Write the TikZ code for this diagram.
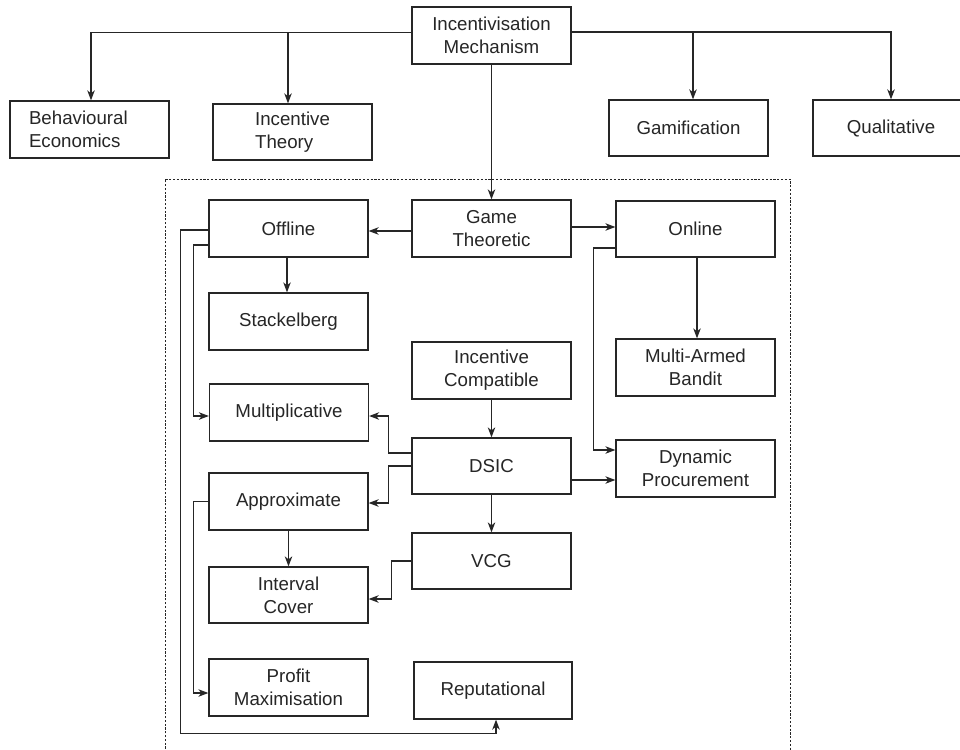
\documentclass[tikz,border=0pt]{standalone}
\usepackage{fontspec}
\setmainfont{Liberation Sans}
\usetikzlibrary{arrows.meta}
\definecolor{ink}{HTML}{262626}
\begin{document}
\begin{tikzpicture}[x=1pt,y=-1pt,
  box/.style={draw=ink,line width=1.3pt,minimum width=159pt,minimum height=57pt,inner sep=2pt,align=center,text=ink,font=\fontsize{18.7}{23}\selectfont},
  arr/.style={draw=ink,line width=1.2pt,-{Stealth[length=10pt,width=7.5pt,inset=3pt]}},
  ln/.style={draw=ink,line width=1.2pt}]
\useasboundingbox (0,0) rectangle (960,749);
\fill[white] (0,0) rectangle (960,749);
% dashed frame
\draw[ink,line width=0.9pt,dash pattern=on 2.2pt off 1.6pt] (165,760) -- (165,179) -- (790,179) -- (790,760);
% top row
\node[box] (IM) at (491.5,35.5) {Incentivisation\\Mechanism};
\node[box,align=left,text width=121pt,inner xsep=19pt,minimum width=0pt] (BE) at (89.5,129.5) {Behavioural\\Economics};
\node[box,align=left,minimum height=56pt] (IT) at (292.5,132) {Incentive\\Theory};
\node[box,minimum height=56pt] (GA) at (688.5,128) {Gamification};
\node[box,minimum width=156pt,minimum height=56pt] (QU) at (891,128) {Qualitative};
% inside frame
\node[box] (GT) at (491.5,228.5) {Game\\Theoretic};
\node[box] (OF) at (288.5,228.5) {Offline};
\node[box,minimum height=56pt] (ON) at (695.5,229) {Online};
\node[box] (ST) at (288.5,321.5) {Stackelberg};
\node[box] (MA) at (695.5,367.5) {Multi-Armed\\Bandit};
\node[box] (IC) at (491.5,370.5) {Incentive\\Compatible};
\node[box] (MU) at (289,412.5) {Multiplicative};
\node[box,minimum height=56pt] (DS) at (491.5,466) {DSIC};
\node[box] (DP) at (695.5,468.5) {Dynamic\\Procurement};
\node[box] (AP) at (288.5,501.5) {Approximate};
\node[box,minimum height=56pt] (VC) at (491.5,561) {VCG};
\node[box,minimum height=56pt] (IV) at (288.5,595) {Interval\\Cover};
\node[box] (PM) at (288.5,687.5) {Profit\\Maximisation};
\node[box,minimum width=158pt] (RE) at (493,690.5) {Reputational};
% top connectors
\draw[arr] ([yshift=3pt]IM.west) -| ([xshift=1.5pt]BE.north);
\draw[arr] ([yshift=3pt]IM.west) -| ([xshift=-4.5pt]IT.north);
\draw[arr] ([yshift=3.5pt]IM.east) -| ([xshift=4.5pt]GA.north);
\draw[arr] ([yshift=3.5pt]IM.east) -| (QU.north);
\draw[arr] (IM.south) -- (GT.north);
% game theoretic
\draw[arr] ([yshift=-2.5pt]GT.west) -- ([yshift=-2.5pt]OF.east);
\draw[arr] ([yshift=1.5pt]GT.east) -- ([yshift=2pt]ON.west);
\draw[arr] ([xshift=-1.5pt]OF.south) -- ([xshift=-1.5pt]ST.north);
\draw[arr] ([xshift=1.5pt]ON.south) -- ([xshift=1.5pt]MA.north);
\draw[arr] ([yshift=-19pt]ON.west) -- ++(-22,0) |- ([yshift=18.5pt]DP.west);
\draw[arr] (IC.south) -- (DS.north);
\coordinate (t1) at ([yshift=-14pt]DS.east);
\draw[arr] (t1) -- (t1 -| DP.west);
\draw[arr] (DS.south) -- (VC.north);
\draw[arr] ([yshift=13pt]DS.west) -- ++(-23,0) |- ([yshift=-3.5pt]MU.east);
\draw[arr] (DS.west) -- ++(-23,0) |- ([yshift=-1.5pt]AP.east);
\draw[arr] (AP.south) -- (IV.north);
\draw[arr] (VC.west) -- ++(-20,0) |- ([yshift=-4pt]IV.east);
% left side
\draw[arr] ([yshift=-1.5pt]OF.west) -- ++(-28,0) |- ([xshift=3pt,yshift=-14pt]RE.south) -- ([xshift=3pt]RE.south);
\draw[arr] ([yshift=-16.5pt]OF.west) -- ++(-15,0) |- ([yshift=-3.5pt]MU.west);
\draw[arr] (AP.west) -- ++(-15,0) |- ([yshift=-5.5pt]PM.west);
\end{tikzpicture}
\end{document}
